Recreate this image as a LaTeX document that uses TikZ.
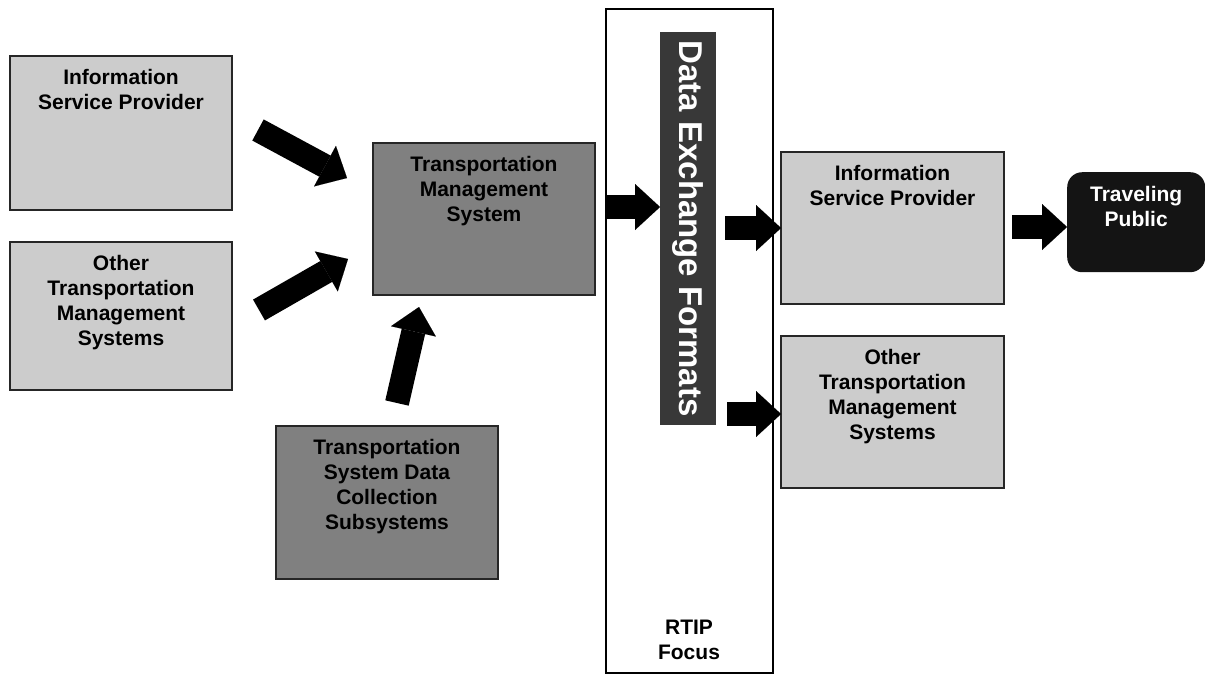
\documentclass[tikz,border=0pt]{standalone}
\usepackage{fontspec}
\setmainfont{Liberation Sans}
\usetikzlibrary{arrows.meta,calc}
\begin{document}
\begin{tikzpicture}[x=1pt,y=-1pt,
  box/.style={draw=black!85, line width=1.8pt, anchor=north west, inner sep=0pt, outer sep=0pt},
  light/.style={box, fill=black!20},
  dark/.style={box, fill=black!50},
  txt/.style={font=\bfseries\fontsize{21}{25}\selectfont, align=center, inner sep=0pt, anchor=north},
  blockarrow/.style={line width=24pt, line cap=butt, black,
    -{Triangle[width=46pt,length=25pt,line width=0.01pt]}}]
\useasboundingbox (0,0) rectangle (1205,675);

% left column
\node[light, minimum width=222pt, minimum height=154pt] (ispL) at (10,56) {};
\node[txt] (ispLt) at ($(ispL.north)+(0,13)$) {Information\\Service Provider};
\node[light, minimum width=222pt, minimum height=148pt] (otmsL) at (10,242) {};
\node[txt] (otmsLt) at ($(otmsL.north)+(0,13)$) {Other\\Transportation\\Management\\Systems};

% centre
\node[dark, minimum width=222pt, minimum height=152pt] (tms) at (373,143) {};
\node[txt] (tmst) at ($(tms.north)+(0,13)$) {Transportation\\Management\\System};
\node[dark, minimum width=222pt, minimum height=153pt] (tsd) at (276,426) {};
\node[txt] (tsdt) at ($(tsd.north)+(0,13)$) {Transportation\\System Data\\Collection\\Subsystems};

% RTIP frame
\node[draw=black, line width=1.6pt, fill=white, anchor=north west, minimum width=167pt, minimum height=664pt, inner sep=0pt] (rtip) at (605,8) {};
\node[txt] (rtipt) at (689,620) {RTIP\\Focus};
\node[fill=black!78, anchor=north west, minimum width=56pt, minimum height=393pt, inner sep=0pt] (def) at (660,32) {};
\node[rotate=-90, text=white, font=\bfseries\fontsize{33}{33}\selectfont, inner sep=0pt] (deft) at (def.center) {Data Exchange Formats};

% right column
\node[light, minimum width=223pt, minimum height=152pt] (ispR) at (781,152) {};
\node[txt] (ispRt) at ($(ispR.north)+(0,13)$) {Information\\Service Provider};
\node[light, minimum width=223pt, minimum height=152pt] (otmsR) at (781,336) {};
\node[txt] (otmsRt) at ($(otmsR.north)+(0,13)$) {Other\\Transportation\\Management\\Systems};

\node[fill=black!92, rounded corners=15pt, anchor=north west, minimum width=138pt, minimum height=100pt, inner sep=0pt] (tp) at (1067,172) {};
\node[txt, text=white] (tpt) at ($(tp.north)+(0,14)$) {Traveling\\Public};

% arrow end points
\coordinate (a1s) at (258,130); \coordinate (a1e) at (347,178);
\coordinate (a2s) at (259,310); \coordinate (a2e) at (348,259);
\coordinate (a3s) at (397,403); \coordinate (a3e) at (419,307);
\coordinate (a4s) at (605,207); \coordinate (a4e) at (def.west |- a4s);
\coordinate (a5s) at (725,228); \coordinate (a5e) at (ispR.west |- a5s);
\coordinate (a6s) at (727,414); \coordinate (a6e) at (otmsR.west |- a6s);
\coordinate (a7s) at (1012,227); \coordinate (a7e) at (tp.west |- a7s);

\draw[blockarrow] (a1s) -- (a1e);
\draw[blockarrow] (a2s) -- (a2e);
\draw[blockarrow] (a3s) -- (a3e);
\draw[blockarrow] (a4s) -- (a4e);
\draw[blockarrow] (a5s) -- (a5e);
\draw[blockarrow] (a6s) -- (a6e);
\draw[blockarrow] (a7s) -- (a7e);
\end{tikzpicture}
\end{document}
